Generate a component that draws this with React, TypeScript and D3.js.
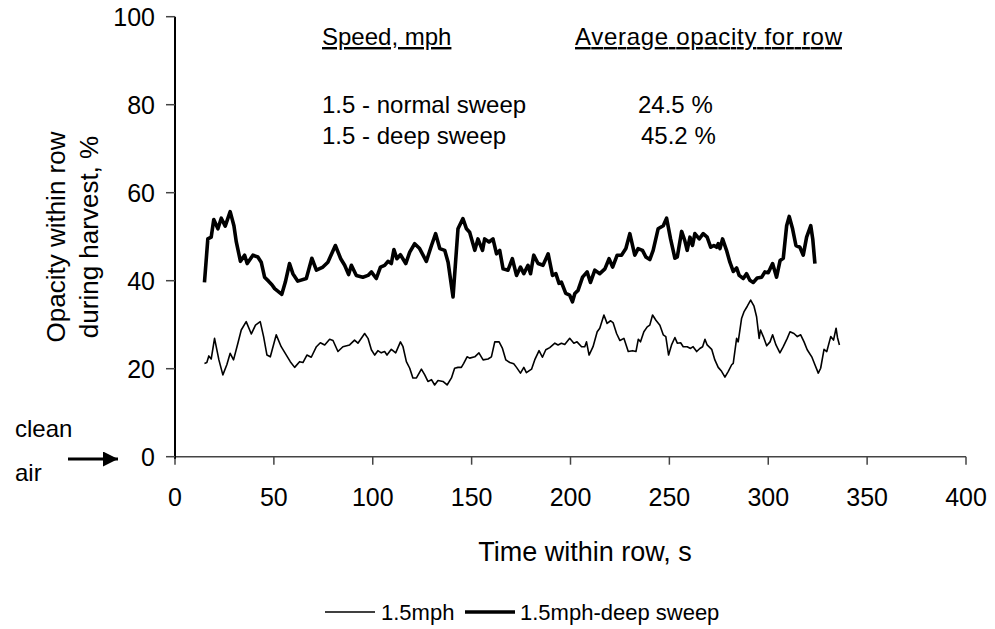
import React from "react";
import * as d3 from "d3";

const normalTime = [14.9,16.1,17.1,18.3,20.0,22.2,24.2,26.2,27.9,29.6,31.8,33.5,36.0,38.6,40.7,43.1,44.8,46.5,48.2,51.2,53.7,56.3,58.3,60.5,63.0,64.7,66.7,68.9,71.5,73.5,75.7,78.2,79.9,82.4,84.9,88.3,90.8,92.5,95.9,97.6,99.3,101.0,102.6,104.3,106.0,107.2,109.4,111.6,114.0,115.3,117.0,118.7,120.3,122.1,124.6,126.3,127.9,129.7,131.3,133.0,135.5,137.6,139.8,141.4,143.1,144.8,146.0,147.7,149.0,151.6,153.7,155.8,158.3,160.0,161.7,163.9,165.6,167.3,169.3,171.3,172.7,174.7,176.4,177.7,180.3,181.9,184.1,185.8,187.5,189.5,192.1,193.7,195.4,197.1,199.6,201.7,203.3,205.6,207.2,208.1,209.4,211.4,213.5,214.8,216.9,218.5,220.3,221.6,223.3,225.0,227.0,229.2,231.4,233.1,234.3,235.4,237.1,238.8,240.1,241.5,243.2,245.2,246.9,248.2,249.6,251.1,252.8,254.0,255.7,257.0,259.0,260.7,262.0,263.8,265.4,266.8,268.0,269.1,271.4,273.0,274.7,276.4,278.1,279.8,281.5,282.3,284.0,284.8,286.5,287.7,289.4,291.1,292.8,294.1,295.4,296.1,297.5,299.2,300.9,302.2,303.9,305.9,307.6,309.6,311.0,313.0,314.7,316.4,318.1,319.7,322.0,323.6,325.3,326.5,328.2,329.6,331.6,333.0,334.3,335.0,336.0];
const normalValues = [21.2,21.4,22.9,22.2,26.9,22.0,18.6,20.9,23.5,22.0,25.8,28.8,30.7,27.9,29.9,30.7,27.3,23.1,22.7,27.7,25.0,23.1,21.6,20.3,21.6,21.4,23.1,22.6,25.0,25.9,25.4,26.7,26.4,23.9,25.0,25.4,26.5,25.8,28.0,26.9,24.3,23.1,24.1,23.6,23.9,23.1,24.4,23.6,26.1,25.0,21.6,20.1,17.9,17.9,19.9,18.6,17.1,17.5,16.3,17.3,17.1,16.3,17.9,20.1,20.3,20.3,21.2,22.7,22.4,22.7,23.6,22.0,22.2,22.7,26.1,26.1,24.6,22.0,21.4,21.1,20.3,19.0,20.3,19.1,19.9,22.0,24.1,22.6,24.3,24.8,25.8,25.4,25.8,25.5,26.9,25.8,26.1,25.0,25.0,26.1,23.1,25.0,28.4,29.2,32.2,30.3,30.9,30.4,28.0,26.4,26.9,23.9,24.1,23.9,26.7,26.1,28.4,29.5,29.9,32.2,31.0,29.9,27.7,27.3,23.1,25.4,27.1,25.8,25.9,25.0,25.0,24.6,25.0,23.9,24.6,25.0,26.7,25.4,24.4,22.0,20.3,19.4,18.1,19.4,20.9,21.2,26.9,26.1,31.4,32.9,34.2,35.6,34.2,31.8,26.9,28.8,27.3,25.2,26.1,27.7,25.4,23.6,25.0,26.9,28.4,28.0,27.3,27.7,26.1,24.3,22.7,20.9,19.0,20.1,24.4,23.9,27.3,26.5,29.2,27.1,25.4];

const deepTime = [14.9,16.6,18.3,19.6,21.7,23.4,25.4,27.9,29.8,31.0,33.1,35.2,36.5,39.4,41.9,43.6,45.3,47.3,49.0,50.4,54.0,55.8,57.9,59.6,62.1,66.4,69.2,71.5,74.8,77.3,81.1,83.8,85.8,87.8,89.2,91.7,95.0,97.6,99.3,101.8,103.9,106.0,107.7,109.4,110.7,112.2,114.0,116.7,118.7,121.2,123.7,127.1,129.7,131.8,133.9,136.4,138.1,140.6,143.1,145.6,147.4,149.0,151.6,153.2,155.5,156.6,158.8,160.8,162.6,164.2,165.9,168.4,170.6,172.7,174.7,176.4,178.5,179.8,181.4,183.6,186.1,188.7,190.9,192.6,194.2,195.4,197.6,199.6,201.0,202.2,203.8,206.1,208.4,210.1,212.3,214.8,217.4,219.5,221.3,223.6,225.8,228.0,230.0,232.5,234.2,236.4,238.1,240.1,241.8,244.3,246.9,248.6,250.6,252.8,254.0,256.2,257.8,259.0,260.4,261.7,262.9,265.1,267.1,269.1,270.9,272.5,273.9,274.7,275.6,276.9,278.9,280.6,282.3,284.0,285.3,287.4,289.0,290.7,292.4,294.4,296.7,298.3,300.0,302.2,304.2,306.0,307.6,309.3,310.6,312.3,314.0,316.0,317.7,319.4,321.5,322.5,323.6];
const deepValues = [39.6,49.5,49.9,53.9,51.8,54.2,52.4,55.7,52.5,48.8,44.4,45.8,43.9,45.8,45.4,44.2,40.8,39.9,39.1,38.2,36.9,39.7,43.9,41.6,39.9,40.5,45.1,42.4,43.1,44.2,48.0,45.0,43.5,41.4,43.5,41.2,40.8,41.2,42.0,40.5,43.1,43.5,44.4,43.9,47.1,45.0,45.9,43.9,46.5,48.4,47.3,44.4,48.0,50.7,47.3,46.9,44.2,36.3,51.8,54.1,51.8,51.0,46.9,49.5,46.9,49.5,48.8,49.5,46.1,46.9,42.7,42.4,45.0,41.2,43.1,41.6,43.5,41.6,45.8,43.9,43.5,46.1,41.2,41.6,39.4,39.7,37.1,36.7,35.2,37.1,37.8,40.8,42.0,39.6,42.4,41.6,42.7,45.0,43.1,45.8,45.8,47.3,50.7,45.8,47.3,46.9,45.4,44.8,46.9,51.8,52.5,54.2,49.5,45.1,45.4,51.2,49.1,46.9,49.9,48.0,50.7,49.5,50.7,49.9,47.6,48.0,47.6,48.4,47.3,49.5,46.9,44.2,42.1,42.9,41.2,40.5,41.6,40.1,39.6,40.6,40.8,42.0,41.8,43.9,40.8,44.6,45.1,52.5,54.6,51.8,48.0,47.6,45.8,49.9,52.5,49.5,43.9];

const xTicks = [0, 50, 100, 150, 200, 250, 300, 350, 400];
const yTicks = [0, 20, 40, 60, 80, 100];
const seriesNames = ["1.5mph", "1.5mph-deep sweep"];
const tableHeaders = ["Speed, mph", "Average opacity for row"];
const tableRows = ["1.5 - normal sweep", "1.5 - deep sweep"];
const tableValues = ["24.5 %", "45.2 %"];

const W = 995, H = 629;
const L = 175, R = 966, T = 16.7, B = 456.7;
const FONT = "Arial, 'Liberation Sans', sans-serif";

export default function App() {
  const x = d3.scaleLinear().domain([0, 400]).range([L, R]);
  const y = d3.scaleLinear().domain([0, 100]).range([B, T]);
  const line = d3.line<[number, number]>().x(d => x(d[0])).y(d => y(d[1]));
  const normal = normalTime.map((t, i) => [t, normalValues[i]] as [number, number]);
  const deep = deepTime.map((t, i) => [t, deepValues[i]] as [number, number]);

  return (
    <svg width={W} height={H} style={{ position: "absolute", left: 0, top: 0, background: "#fff" }} fontFamily={FONT}>
      <rect width={W} height={H} fill="#fff" />
      {/* axes */}
      <line x1={L} x2={R} y1={B} y2={B} stroke="#444" strokeWidth={1.5} />
      {xTicks.map(t => (
        <g key={"x" + t}>
          <line x1={x(t)} x2={x(t)} y1={B} y2={B + 8} stroke="#444" strokeWidth={1.5} />
          <text x={x(t)} y={B + 49} textAnchor="middle" fontSize={25}>{t}</text>
        </g>
      ))}
      <line x1={L} x2={L} y1={T} y2={B + 2} stroke="#000" strokeWidth={2} />
      {yTicks.map(t => (
        <g key={"y" + t}>
          <line x1={L - 9} x2={L} y1={y(t)} y2={y(t)} stroke="#444" strokeWidth={1.5} />
          <text x={L - 20} y={y(t) + 9} textAnchor="end" fontSize={25}>{t}</text>
        </g>
      ))}
      {/* lines */}
      <path d={line(normal) || ""} fill="none" stroke="#000" strokeWidth={1.6} strokeLinejoin="round" />
      <path d={line(deep) || ""} fill="none" stroke="#000" strokeWidth={3.6} strokeLinejoin="round" />
      {/* axis titles */}
      <text x={585} y={561} textAnchor="middle" fontSize={27}>Time within row, s</text>
      <text transform={`translate(65,237) rotate(-90)`} textAnchor="middle" fontSize={26}>Opacity within row</text>
      <text transform={`translate(98,237) rotate(-90)`} textAnchor="middle" fontSize={26}>during harvest, %</text>
      {/* clean air */}
      <text x={15} y={437} fontSize={24}>clean</text>
      <text x={15} y={481} fontSize={24}>air</text>
      <defs>
        <marker id="arr" viewBox="0 0 10 10" refX={10} refY={5} markerWidth={5} markerHeight={5} orient="auto" markerUnits="strokeWidth">
          <path d="M0,0 L10,5 L0,10 z" fill="#000" />
        </marker>
      </defs>
      <line x1={68} x2={118} y1={459} y2={459} stroke="#000" strokeWidth={3} markerEnd="url(#arr)" />
      {/* table annotation */}
      <text x={322} y={45} fontSize={24} textDecoration="underline">{tableHeaders[0]}</text>
      <text x={575} y={45} fontSize={24} textDecoration="underline" textLength={267}>{tableHeaders[1]}</text>
      <text x={322} y={113} fontSize={24}>{tableRows[0]}</text>
      <text x={322} y={144} fontSize={24}>{tableRows[1]}</text>
      <text x={638} y={113} fontSize={24}>{tableValues[0]}</text>
      <text x={641} y={144} fontSize={24}>{tableValues[1]}</text>
      {/* legend */}
      <line x1={325} x2={375} y1={612} y2={612} stroke="#000" strokeWidth={1.5} />
      <text x={381} y={620} fontSize={22}>{seriesNames[0]}</text>
      <line x1={465} x2={515} y1={612} y2={612} stroke="#000" strokeWidth={3.5} />
      <text x={520} y={620} fontSize={22}>{seriesNames[1]}</text>
    </svg>
  );
}
